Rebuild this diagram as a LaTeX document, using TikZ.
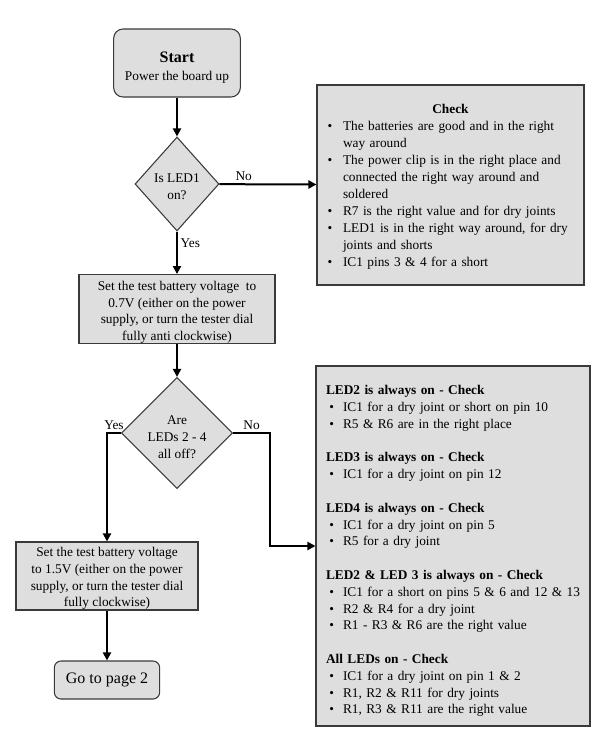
\documentclass[tikz,border=0pt]{standalone}
\usepackage{fontspec}
\setmainfont{Liberation Serif}
\usepackage{enumitem}
\usetikzlibrary{shapes.geometric,arrows.meta}
\definecolor{boxfill}{HTML}{DEDEDE}
\definecolor{boxline}{HTML}{3A3A3A}
\setlength{\parindent}{0pt}

\begin{document}
\begin{tikzpicture}[x=0.75pt,y=-0.75pt,>={Triangle[length=6pt,width=6pt]}]
	\tikzstyle{base}=[draw=boxline,fill=boxfill,line width=0.8pt,font=\fontsize{10}{12.5}\selectfont]
	\tikzstyle{term}=[base,rounded corners=7pt,align=center,inner sep=0pt]
	\tikzstyle{proc}=[base,align=center,inner sep=0pt]
	\tikzstyle{decide}=[base,diamond,align=center,inner sep=0pt,font=\fontsize{10}{13}\selectfont]
	\tikzstyle{note}=[base,inner ysep=0pt,align=left]
	\tikzstyle{edge}=[draw=black,line width=1.5pt]
	\tikzstyle{lbl}=[font=\fontsize{10}{12.5}\selectfont,inner sep=2pt]

	\useasboundingbox (0,0) rectangle (600,735);

	 \node [term,minimum width=95pt,minimum height=51pt,font=\fontsize{10}{14}\selectfont] (start) at (177,63)
	   {\rule{0pt}{15pt}{\fontsize{12}{14}\selectfont\textbf{Start}}\\Power the board up};
	 \node [decide,minimum width=63pt,minimum height=70.5pt] (led1) at (177,184) {\rule{0pt}{11pt}Is LED1\\on?};
	 \node [proc,minimum width=147pt,minimum height=51pt] (set07) at (177,309)
	   {\rule{0pt}{12pt}Set the test battery voltage\ \ to\\0.7V (either on the power\\supply, or turn the tester dial\\fully anti clockwise)};
	 \node [decide,minimum width=70.5pt,minimum height=78pt] (leds) at (177,433) {\rule{0pt}{13pt}Are\\LEDs 2 - 4\\all off?};
	 \node [proc,minimum width=136.5pt,minimum height=51pt] (set15) at (107,576)
	   {\rule{0pt}{11pt}Set the test battery voltage\\to 1.5V (either on the power\\supply, or turn the tester dial\\fully clockwise)};
	 \node [term,rounded corners=5pt,minimum width=79pt,minimum height=28.5pt,font=\fontsize{12}{14}\selectfont] (goto) at (107,680) {Go to page 2};

	 % fault check boxes
	 \node [note,inner xsep=6pt,text width=188.25pt,minimum height=150pt,font=\fontsize{10}{12.75}\selectfont] (check1) at (450.5,185)
	   {{\centering\rule{0pt}{10pt}\textbf{Check}\par}
	    \begin{itemize}[nosep,leftmargin=13.5pt,labelsep=8pt,rightmargin=-10pt,label=\textbullet]
	     \item The batteries are good and in the right\newline way around
	     \item The power clip is in the right place and\newline connected the right way around and\newline soldered
	     \item R7 is the right value and for dry joints
	     \item LED1 is in the right way around, for dry\newline joints and shorts
	     \item IC1 pins 3 \& 4 for a short
	    \end{itemize}};
	 \node [note,inner xsep=7.5pt,text width=190.5pt,minimum height=270pt,font=\fontsize{10}{12.6}\selectfont] (check2) at (453,546)
	   {\setlist[itemize]{nosep,leftmargin=12.75pt,labelsep=6.75pt,rightmargin=-12pt,label=\textbullet}%
	    \rule{0pt}{14.5pt}\textbf{LED2 is always on - Check}
	    \begin{itemize}
	     \item IC1 for a dry joint or short on pin 10
	     \item R5 \& R6 are in the right place
	    \end{itemize}\vspace{12.6pt}
	    \textbf{LED3 is always on - Check}
	    \begin{itemize}
	     \item IC1 for a dry joint on pin 12
	    \end{itemize}\vspace{12.6pt}
	    \textbf{LED4 is always on - Check}
	    \begin{itemize}
	     \item IC1 for a dry joint on pin 5
	     \item R5 for a dry joint
	    \end{itemize}\vspace{12.6pt}
	    \textbf{LED2 \& LED 3 is always on - Check}
	    \begin{itemize}
	     \item IC1 for a short on pins 5 \& 6 and 12 \& 13
	     \item R2 \& R4 for a dry joint
	     \item R1 - R3 \& R6 are the right value
	    \end{itemize}\vspace{12.6pt}
	    \textbf{All LEDs on - Check}
	    \begin{itemize}
	     \item IC1 for a dry joint on pin 1 \& 2
	     \item R1, R2 \& R11 for dry joints
	     \item R1, R3 \& R11 are the right value
	    \end{itemize}};

	 \coordinate (elbow) at (270,546);

	 \path[edge,->] (start) -- (led1);
	 \path[edge,->] (led1) -- node[lbl,above,pos=0.25] {No} (check1);
	 \path[edge,->] (led1) -- node[lbl,right,pos=0.27] {Yes} (set07);
	 \path[edge,->] (set07) -- (leds);
	 \path[edge,->] (leds.west) -| node[lbl,above,pos=0.25] {Yes} (set15);
	 \path[edge,->] (leds.east) -| node[lbl,above,pos=0.25] {No} (elbow) -- (check2.west);
	 \path[edge,->] (set15) -- (goto);

  \end{tikzpicture}
\end{document}
